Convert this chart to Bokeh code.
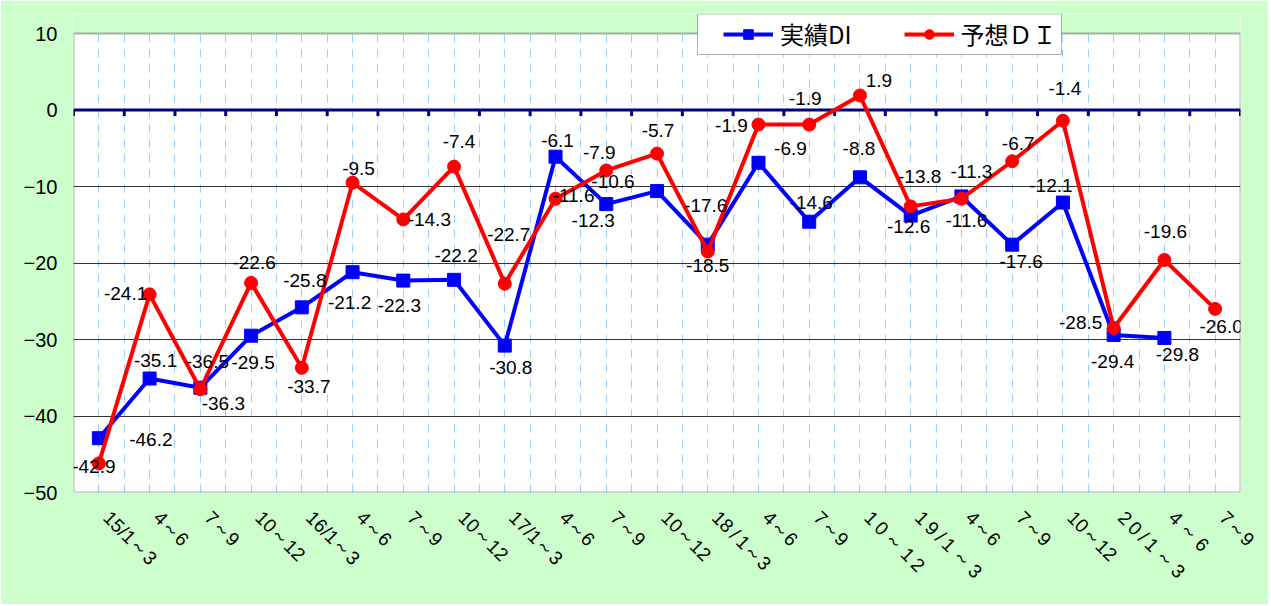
import math
from bokeh.plotting import figure
from bokeh.models import Range1d, FixedTicker, Span, ColumnDataSource, Legend, LegendItem, BoxAnnotation
from bokeh.core.properties import value
from bokeh.embed import file_html
from bokeh.resources import INLINE

# ---- data ----
T = "\u2009"
periods = ["15/1～3", "4～6", "7～9", "10～12",
           "16/1～3", "4～6", "7～9", "10～12",
           "17/1～3", "4～6", "7～9", "10～12",
           f"18{T}/{T}1～3", "4～6", "7～9", f"1{T}0{T}～{T}1{T}2",
           f"1{T}9{T}/{T}1{T}～{T}3", "4～6", "7～9", "10～12",
           f"2{T}0{T}/{T}1{T}～{T}3", f"4{T}～{T}6", "7～9"]
actual = [-42.9, -35.1, -36.3, -29.5, -25.8, -21.2, -22.3, -22.2, -30.8, -6.1, -12.3,
          -10.6, -17.6, -6.9, -14.6, -8.8, -13.8, -11.3, -17.6, -12.1, -29.4, -29.8]
forecast = [-46.2, -24.1, -36.5, -22.6, -33.7, -9.5, -14.3, -7.4, -22.7, -11.6, -7.9,
            -5.7, -18.5, -1.9, -1.9, 1.9, -12.6, -11.6, -6.7, -1.4, -28.5, -19.6, -26.0]
y_ticks = [-50, -40, -30, -20, -10, 0, 10]
series_names = ["実績DI", "予想ＤＩ"]

# ---- label placement (screen px offsets from each point) ----
actual_dx = [-5, 6, 23, 2, 3, -3, -4, 2, 6, 2, -13, -44, -2, 32, 2, -1, 9, 10, 9, -12, -1, 13]
actual_dy = [28, -18, 16, 27, -27, 30, 25, -24, 22, -16, 16, -10, -39, -14, -19, -29, -39, -25, 17, -17, 27, 17]
forecast_dx = [52, -24, 7, 3, 7, 6, 26, 5, 4, 18, -7, 1, 0, -27, -4, 19, -2, 5, 6, 2, -33, 1, 6]
forecast_dy = [-24, -1, -28, -20, 19, -14, 0, -25, -49, -3, -18, -23, 14, 1, -26, -15, 20, 22, -18, -32, -6, -28, 18]

n = len(periods)
xa = list(range(len(actual)))
xf = list(range(len(forecast)))

src_a = ColumnDataSource(dict(x=xa, y=actual, lab=[f"{v:.1f}" for v in actual],
                              dx=actual_dx, dy=actual_dy))
src_f = ColumnDataSource(dict(x=xf, y=forecast, lab=[f"{v:.1f}" for v in forecast],
                              dx=forecast_dx, dy=forecast_dy))

# ---- layout constants (page pixels) ----
FRAME_L, FRAME_R, FRAME_B, GRID_TOP = 73, 1240, 492, 33
FRAME_T = 13
px_x = (FRAME_R - FRAME_L) / n
px_y = (FRAME_B - GRID_TOP) / (y_ticks[-1] - y_ticks[0])
y_top = y_ticks[-1] + (GRID_TOP - FRAME_T) / px_y


def xd(px):
    return -0.5 + (px - FRAME_L) / px_x


def yd(py):
    return y_ticks[-1] - (py - GRID_TOP) / px_y


p = figure(width=1268, height=604,
           x_range=Range1d(-0.5, n - 0.5), y_range=Range1d(y_ticks[0], y_top),
           output_backend="svg", toolbar_location=None,
           min_border_left=FRAME_L, min_border_right=1268 - FRAME_R,
           min_border_top=FRAME_T, min_border_bottom=604 - FRAME_B,
           background_fill_color="white", border_fill_color="#CCFFCC",
           outline_line_color=None)

# axes
p.yaxis.ticker = FixedTicker(ticks=y_ticks)
p.yaxis.major_tick_line_color = None
p.yaxis.minor_tick_line_color = None
p.yaxis.major_tick_out = 0
p.yaxis.axis_line_color = None
p.yaxis.major_label_standoff = 16
p.yaxis.major_label_text_font = "Liberation Sans"
p.yaxis.major_label_text_font_size = "20px"
p.yaxis.major_label_text_color = "black"

p.xaxis.ticker = FixedTicker(ticks=[i + 0.15 for i in range(n)])
p.xaxis.major_label_overrides = {i + 0.15: lab for i, lab in enumerate(periods)}
p.xaxis.major_label_orientation = -math.pi / 4
p.xaxis.major_tick_line_color = None
p.xaxis.minor_tick_line_color = None
p.xaxis.major_tick_out = 0
p.xaxis.axis_line_color = None
p.xaxis.major_label_standoff = 22
p.xaxis.major_label_text_font = "Liberation Sans"
p.xaxis.major_label_text_font_size = "19px"
p.xaxis.major_label_text_color = "black"

# grids
p.xgrid.ticker = FixedTicker(ticks=[-0.5 + 0.5 * k for k in range(2 * n + 1)])
p.xgrid.grid_line_color = "#99CCFF"
p.xgrid.grid_line_dash = "8 7"
p.xgrid.grid_line_width = 1
p.ygrid.ticker = FixedTicker(ticks=[t for t in y_ticks if t not in (0, y_ticks[0], y_ticks[-1])])
p.ygrid.grid_line_color = "#333333"
p.ygrid.grid_line_width = 1

# zero line with category-boundary ticks
zero = Span(location=0, dimension="width", line_color="#000080", line_width=3, level="underlay")
p.add_layout(zero)
bounds = [b - 0.5 for b in range(n + 1)]
p.segment(x0=bounds, y0=[0] * len(bounds), x1=bounds, y1=[-0.8] * len(bounds),
          line_color="#000080", line_width=3)

# series
la = p.line("x", "y", source=src_a, line_color="#0000FF", line_width=4)
ma = p.scatter("x", "y", source=src_a, marker="square", size=13, fill_color="#0000FF", line_color="#0000FF")
lf = p.line("x", "y", source=src_f, line_color="#FF0000", line_width=4)
mf = p.scatter("x", "y", source=src_f, marker="circle", size=13, fill_color="#FF0000", line_color="#FF0000")

# data labels
for src in (src_a, src_f):
    p.text("x", "y", text="lab", source=src, x_offset="dx", y_offset="dy",
           text_align="center", text_baseline="middle",
           text_font=value("Liberation Sans"), text_font_size="19px", text_color="black")

# area above the top gridline belongs to the chart background
p.add_layout(BoxAnnotation(bottom=y_ticks[-1], fill_color="#CCFFCC", fill_alpha=1, line_color=None))
# plot-area border
p.add_layout(BoxAnnotation(left=-0.5, right=n - 0.5, bottom=y_ticks[0], top=y_ticks[-1],
                           fill_alpha=0, line_color="black", line_width=2))
# legend box (overlapping the top border)
p.add_layout(BoxAnnotation(left=xd(697), right=xd(1061), bottom=yd(54), top=yd(FRAME_T + 0.5),
                           fill_color="white", fill_alpha=1, line_color="black", line_width=1))

legend = Legend(items=[LegendItem(label=series_names[0], renderers=[la, ma]),
                       LegendItem(label=series_names[1], renderers=[lf, mf])],
                orientation="horizontal", location=(723 - FRAME_L, FRAME_B - 51),
                border_line_color=None, background_fill_alpha=0,
                label_text_font="Noto Sans CJK JP", label_text_font_size="24px",
                label_text_color="black",
                glyph_width=50, glyph_height=24, label_height=24, label_standoff=7, spacing=52,
                padding=0, margin=0)
p.add_layout(legend, "center")

open("out.html", "w").write(file_html(p, INLINE))
